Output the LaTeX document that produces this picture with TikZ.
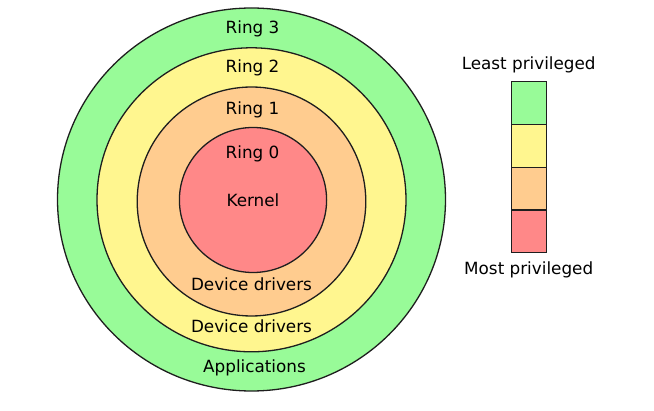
\documentclass[tikz,border=0pt]{standalone}
\usepackage{fontspec}
\setmainfont{DejaVu Sans}
\definecolor{rgreen}{RGB}{152,251,152}
\definecolor{ryellow}{RGB}{255,246,143}
\definecolor{rorange}{RGB}{255,204,143}
\definecolor{rred}{RGB}{255,136,136}
\definecolor{rline}{RGB}{30,30,30}
\tikzset{
  ringline/.style={draw=rline, line width=1.3pt},
  lbl/.style={anchor=base, inner sep=0pt, font=\fontsize{16.8}{20}\selectfont, text=black},
  cell/.style={draw=rline, line width=1.3pt}
}
\begin{document}
\begin{tikzpicture}[x=1pt,y=-1pt]
\useasboundingbox (0,0) rectangle (654,411);
% rings
\filldraw[ringline, fill=rgreen] (251.5,199.5) ellipse [x radius=194, y radius=191.5];
\filldraw[ringline, fill=ryellow] (251.5,199.8) ellipse [x radius=154.5, y radius=152];
\filldraw[ringline, fill=rorange] (251.5,201.5) ellipse [x radius=114.3, y radius=114.5];
\filldraw[ringline, fill=rred] (253,200) ellipse [x radius=73.6, y radius=72.5];
% labels
\node[lbl] (r3) at (252.5,33.3) {Ring 3};
\node[lbl] (r2) at (252.5,72.5) {Ring 2};
\node[lbl] (r1) at (252.5,114.3) {Ring 1};
\node[lbl] (r0) at (252.5,158.3) {Ring 0};
\node[lbl] (kern) at (253,206.7) {Kernel};
\node[lbl] (dd1) at (251.5,290.7) {Device drivers};
\node[lbl] (dd2) at (251.5,332.3) {Device drivers};
\node[lbl] (apps) at (254.5,372.3) {Applications};
% legend
\filldraw[cell, fill=rgreen] (511.7,81.7) rectangle (546.7,124.4);
\filldraw[cell, fill=ryellow] (511.7,124.4) rectangle (546.7,167.6);
\filldraw[cell, fill=rorange] (511.7,167.6) rectangle (546.7,210);
\filldraw[cell, fill=rred] (511.7,210) rectangle (546.7,252.7);
\node[lbl] (least) at (528.7,69.3) {Least privileged};
\node[lbl] (most) at (528.7,275) {Most privileged};
\end{tikzpicture}
\end{document}
